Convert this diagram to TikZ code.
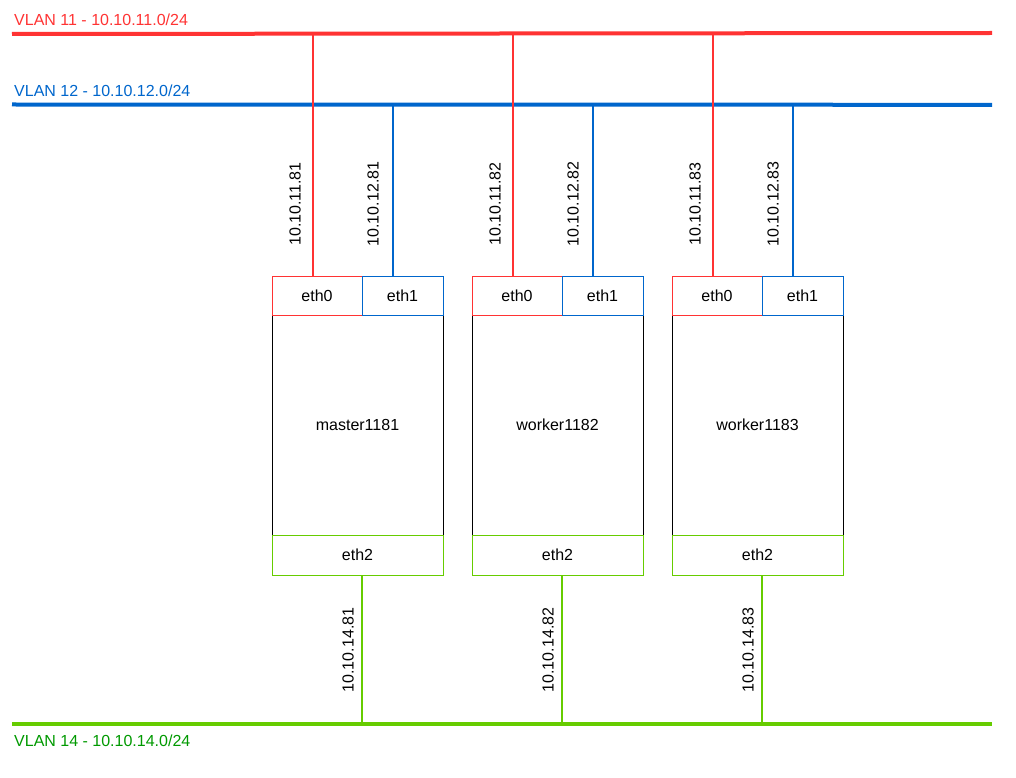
\documentclass[tikz,border=0pt]{standalone}
\usepackage{fontspec}
\setmainfont{Liberation Sans}
\definecolor{vred}{HTML}{FF3333}
\definecolor{vblue}{HTML}{0066CC}
\definecolor{vgreen}{HTML}{66CC00}
\definecolor{tgreen}{HTML}{009900}
\begin{document}
\begin{tikzpicture}[x=1pt,y=-1pt,
  every node/.style={font=\fontsize{16}{19}\selectfont},
  bus/.style={line width=4pt},
  drop/.style={line width=2pt},
  box/.style={draw, line width=1pt, inner sep=0pt, outer sep=0pt},
  ip/.style={rotate=90, inner sep=0pt}]
\useasboundingbox (0,0) rectangle (1016,778);
% buses
\coordinate (b11w) at (12,34);
\coordinate (b11e) at (992,33);
\coordinate (b12w) at (12,104.5);
\coordinate (b12e) at (992,104.8);
\coordinate (b14w) at (12,723.5);
\coordinate (b14e) at (992,723.5);
\draw[bus, vred] (b11w) -- (b11e);
\draw[bus, vblue] (b12w) -- (b12e);
\draw[bus, vgreen] (b14w) -- (b14e);
\node[anchor=base west, inner sep=0pt, text=vred] (l11) at (14,26) {VLAN 11 - 10.10.11.0/24};
\node[anchor=base west, inner sep=0pt, text=vblue] (l12) at (14,96.5) {VLAN 12 - 10.10.12.0/24};
\node[anchor=base west, inner sep=0pt, text=tgreen] (l14) at (14,746) {VLAN 14 - 10.10.14.0/24};
\foreach \i/\nm/\ip in {0/master1181/81, 1/worker1182/82, 2/worker1183/83} {
  \pgfmathsetmacro\dx{200*\i}
  \node[box, minimum width=171pt, minimum height=220pt] (h\i) at (357.5+\dx,425) {\nm};
  \node[box, draw=vred, minimum width=90pt, minimum height=39pt] (e0\i) at (317+\dx,295.5) {eth0};
  \node[box, draw=vblue, minimum width=81pt, minimum height=39pt] (e1\i) at (402.5+\dx,295.5) {eth1};
  \node[box, draw=vgreen, minimum width=171pt, minimum height=40pt] (e2\i) at (357.5+\dx,555) {eth2};
  \coordinate (r\i) at (312.5+\dx,34);
  \coordinate (u\i) at (392.5+\dx,104.6);
  \coordinate (g\i) at (362+\dx,723.5);
  \draw[drop, vred] (r\i) -- (r\i |- e0\i.north);
  \draw[drop, vblue] (u\i) -- (u\i |- e1\i.north);
  \draw[drop, vgreen] (e2\i.south -| g\i) -- (g\i);
  \node[ip] (a\i) at (295+\dx,204) {10.10.11.\ip};
  \node[ip] (c\i) at (373+\dx,204) {10.10.12.\ip};
  \node[ip] (d\i) at (348+\dx,650) {10.10.14.\ip};
}
\end{tikzpicture}
\end{document}
